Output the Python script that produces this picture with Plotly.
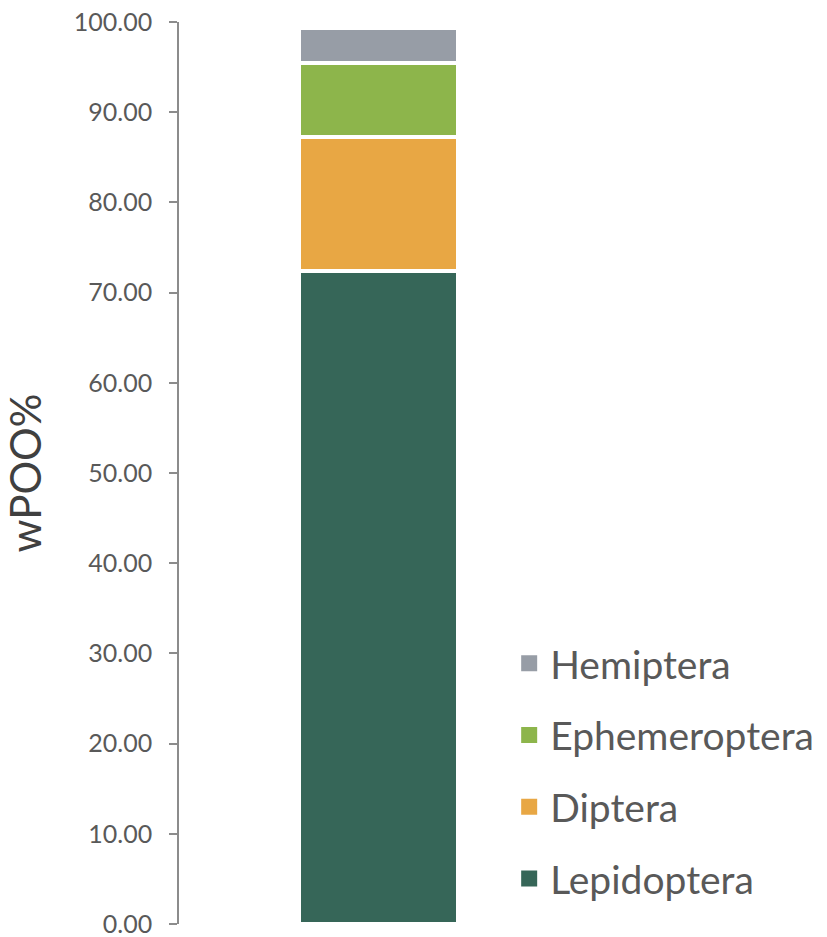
import plotly.graph_objects as go

# Diet composition (wPOO%) for a single sample, stacked bottom to top
orders = ["Lepidoptera", "Diptera", "Ephemeroptera", "Hemiptera"]
wpoo = [72.4, 14.9, 8.2, 3.8]
colors = ["#366658", "#E8A744", "#8DB54B", "#979DA6"]
category = ["all"]

y_ticks = [0, 10, 20, 30, 40, 50, 60, 70, 80, 90, 100]

fig = go.Figure()

for name, val, col in zip(orders, wpoo, colors):
    fig.add_trace(go.Bar(
        x=category, y=[val], name=name,
        marker=dict(color=col, line=dict(color="white", width=4)),
        width=0.4, showlegend=False,
    ))

# Legend entries with larger square swatches, top of stack listed first
for name, col in reversed(list(zip(orders, colors))):
    fig.add_trace(go.Scatter(
        x=[None], y=[None], mode="markers", name=name,
        marker=dict(symbol="square", size=16, color=col),
        legendgroup=name, showlegend=True,
    ))

fig.update_layout(
    barmode="stack",
    width=827, height=937,
    margin=dict(l=179, r=249, t=22, b=13, autoexpand=False),
    paper_bgcolor="white", plot_bgcolor="white",
    font=dict(family="Lato", color="#595959"),
    xaxis=dict(showticklabels=False, showline=False, showgrid=False,
               zeroline=False, ticks="", range=[-0.5, 0.5], automargin=False),
    yaxis=dict(
        range=[0, 100], tickvals=y_ticks, tickformat=".2f",
        showline=True, linecolor="#8C8C8C", linewidth=1.5,
        ticks="outside", ticklen=8, tickcolor="#8C8C8C", tickwidth=1.5,
        showgrid=False, zeroline=False, automargin=False,
        tickfont=dict(size=25, color="#595959", family="Lato"),
        ticklabelstandoff=12, ticklabeloverflow="allow",
        title=dict(text="wPOO%", font=dict(size=42, color="#404040", family="Lato"),
                   standoff=26),
    ),
    legend=dict(
        x=0.825, xanchor="left", y=0.015, yanchor="bottom",
        traceorder="grouped", tracegroupgap=18,
        font=dict(size=39, color="#595959", family="Lato"),
        bgcolor="rgba(0,0,0,0)", itemwidth=32,
    ),
)

fig.write_html("out.html")
